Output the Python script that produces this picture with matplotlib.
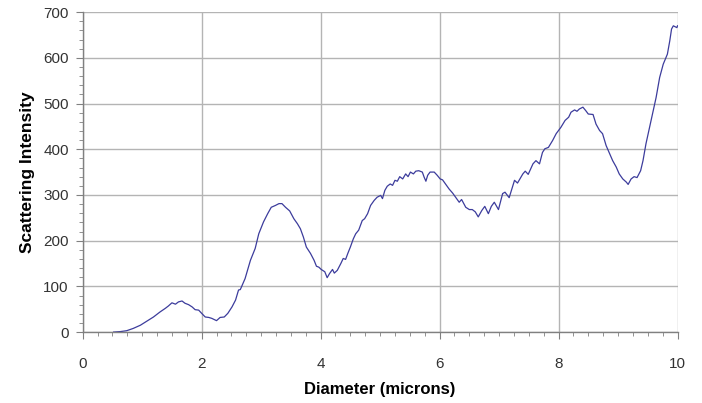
import matplotlib
matplotlib.use("Agg")
import matplotlib.pyplot as plt
from matplotlib.ticker import MultipleLocator

plt.rcParams['font.family'] = ['Liberation Sans', 'DejaVu Sans']

# diameter (microns) and scattering intensity
diameter = [0.52, 0.63, 0.74, 0.85, 0.97, 1.08, 1.19, 1.30, 1.39, 1.44,
            1.50, 1.56, 1.61, 1.67, 1.72, 1.78, 1.84, 1.89, 1.95, 2.00,
            2.06, 2.12, 2.17, 2.25, 2.31, 2.38, 2.44, 2.51, 2.57, 2.62,
            2.65, 2.73, 2.82, 2.90, 2.96, 3.04, 3.11, 3.17, 3.24, 3.30,
            3.35, 3.41, 3.48, 3.55, 3.61, 3.66, 3.71, 3.76, 3.83, 3.89,
            3.93, 3.97, 4.01, 4.07, 4.11, 4.15, 4.20, 4.23, 4.28, 4.34,
            4.38, 4.42, 4.46, 4.50, 4.55, 4.59, 4.64, 4.70, 4.74, 4.79,
            4.81, 4.84, 4.90, 4.95, 5.01, 5.04, 5.08, 5.12, 5.17, 5.21,
            5.25, 5.29, 5.33, 5.38, 5.43, 5.47, 5.51, 5.56, 5.60, 5.65,
            5.71, 5.74, 5.77, 5.80, 5.84, 5.91, 5.96, 6.01, 6.05, 6.10,
            6.16, 6.22, 6.27, 6.33, 6.37, 6.44, 6.50, 6.55, 6.60, 6.65,
            6.71, 6.76, 6.82, 6.87, 6.92, 6.99, 7.06, 7.10, 7.17, 7.26,
            7.31, 7.40, 7.44, 7.49, 7.57, 7.62, 7.68, 7.73, 7.77, 7.83,
            7.90, 7.96, 8.04, 8.11, 8.17, 8.21, 8.27, 8.31, 8.35, 8.41,
            8.46, 8.50, 8.58, 8.63, 8.69, 8.74, 8.80, 8.86, 8.91, 8.97,
            9.02, 9.08, 9.14, 9.17, 9.22, 9.27, 9.32, 9.38, 9.42, 9.47,
            9.53, 9.59, 9.64, 9.70, 9.76, 9.83, 9.87, 9.90, 9.93, 9.99,
            10.0]
intensity = [0, 1, 3, 8, 15, 24, 33, 44, 52, 57,
             64, 61, 66, 68, 63, 60, 55, 49, 48, 41,
             33, 32, 30, 25, 32, 33, 41, 55, 70, 92,
             93, 117, 157, 183, 215, 241, 259, 273, 277, 281,
             281, 273, 265, 248, 237, 226, 208, 186, 172, 157,
             144, 142, 137, 132, 119, 128, 137, 129, 135, 150,
             161, 159, 173, 186, 204, 215, 223, 244, 248, 259,
             266, 277, 288, 295, 299, 292, 310, 319, 324, 321,
             332, 330, 340, 335, 346, 340, 350, 346, 352, 353,
             350, 339, 330, 343, 350, 350, 343, 335, 333, 324,
             313, 304, 295, 284, 290, 273, 268, 268, 263, 252,
             266, 275, 259, 275, 284, 268, 303, 306, 294, 332,
             326, 346, 352, 345, 368, 375, 368, 393, 401, 404,
             419, 434, 448, 463, 470, 481, 486, 483, 488, 492,
             484, 477, 476, 455, 441, 434, 408, 390, 375, 361,
             346, 335, 328, 323, 335, 340, 338, 353, 375, 412,
             448, 484, 513, 557, 586, 608, 637, 663, 670, 666,
             670]

fig = plt.figure(figsize=(7.02, 4.03), dpi=100)
ax = fig.add_axes([0.1178, 0.176, 0.8473, 0.794])

ax.plot(diameter, intensity, color='#3c3c9c', lw=0.9)

ax.set_xlim(0, 10)
ax.set_ylim(0, 700)
ax.xaxis.set_major_locator(MultipleLocator(2))
ax.xaxis.set_minor_locator(MultipleLocator(0.25))
ax.yaxis.set_major_locator(MultipleLocator(100))
ax.yaxis.set_minor_locator(MultipleLocator(20))

ax.grid(True, which='major', color='#b4b4b4', lw=1)
ax.set_axisbelow(True)

for s in ['top', 'right']:
    ax.spines[s].set_visible(False)
for s in ['left', 'bottom']:
    ax.spines[s].set_color('#808080')
    ax.spines[s].set_linewidth(1)

ax.tick_params(which='major', direction='out', length=5, color='#808080',
               labelsize=11, labelcolor='#333333')
ax.tick_params(which='minor', direction='out', length=3, color='#808080')
ax.tick_params(axis='x', which='major', pad=13)
ax.tick_params(axis='y', which='major', pad=5)

ax.set_xlabel('Diameter (microns)', fontsize=12, fontweight='bold', labelpad=8)
ax.set_ylabel('Scattering Intensity', fontsize=12.5, fontweight='bold', labelpad=6)

fig.savefig('out.png', dpi=100)
